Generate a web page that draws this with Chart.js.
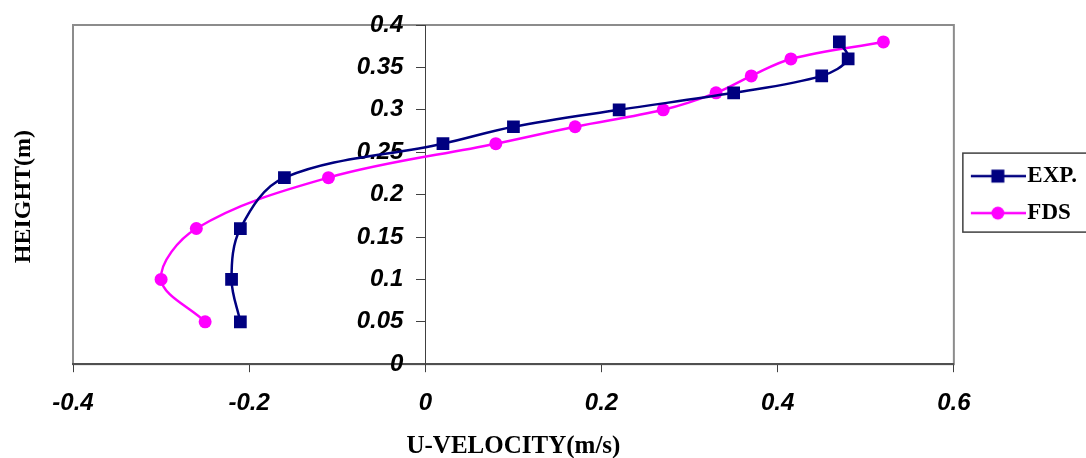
<!DOCTYPE html>
<html>
<head>
<meta charset="utf-8">
<script src="https://cdn.jsdelivr.net/npm/chart.js@4"></script>
<style>
    html, body { margin: 0; padding: 0; background: #fff; overflow: hidden; }
</style>
</head>
<body>
<canvas id="velChart" width="1100" height="458"></canvas>
<script>
const heights = [0.05, 0.10, 0.16, 0.22, 0.26, 0.28, 0.30, 0.32, 0.34, 0.36, 0.38];
const expVel = [-0.21, -0.22, -0.21, -0.16, 0.02, 0.10, 0.22, 0.35, 0.45, 0.48, 0.47];
const fdsVel = [-0.25, -0.30, -0.26, -0.11, 0.08, 0.17, 0.27, 0.33, 0.37, 0.415, 0.52];

const xTicks = [-0.4, -0.2, 0, 0.2, 0.4, 0.6];
const xTickLabels = ['-0.4', '-0.2', '0', '0.2', '0.4', '0.6'];
const yTicks = [0, 0.05, 0.1, 0.15, 0.2, 0.25, 0.3, 0.35, 0.4];
const yTickLabels = ['0', '0.05', '0.1', '0.15', '0.2', '0.25', '0.3', '0.35', '0.4'];

const NAVY = '#000080';
const MAGENTA = '#ff00ff';

function toPoints(xs, ys) {
    return xs.map((x, i) => ({ x: x, y: ys[i] }));
}

// small canvas with line + marker, used as the legend symbol
// (it is drawn centred on the legend box, so the line runs a bit to the right)
function legendSymbol(color, shape) {
    const c = document.createElement('canvas');
    c.width = 68;
    c.height = 16;
    const g = c.getContext('2d');
    g.strokeStyle = color;
    g.lineWidth = 2.5;
    g.beginPath();
    g.moveTo(13, 8);
    g.lineTo(68, 8);
    g.stroke();
    g.fillStyle = color;
    if (shape === 'rect') {
        g.fillRect(40 - 6.5, 8 - 6.5, 13, 13);
    } else {
        g.beginPath();
        g.arc(40, 8, 6.5, 0, Math.PI * 2);
        g.fill();
    }
    return c;
}

const frame = {
    id: 'frame',
    beforeDraw(chart) {
        // y axis sits at x = 0, so push its labels off the axis line
        const ys = chart.scales.y;
        ys._labelItems = null;
        ys.getLabelItems(chart.chartArea).forEach(item => {
            item.options.translation[0] -= 22;
        });

        const a = chart.chartArea;
        const ctx = chart.ctx;
        ctx.save();
        ctx.strokeStyle = '#8c8c8c';
        ctx.lineWidth = 2;
        ctx.strokeRect(a.left, a.top, a.right - a.left, a.bottom - a.top);
        ctx.restore();
    },
    afterDraw(chart) {
        const ctx = chart.ctx;
        const a = chart.chartArea;
        ctx.save();
        ctx.font = 'bold 24px "Liberation Serif"';
        ctx.fillStyle = '#000';
        ctx.textAlign = 'center';
        ctx.textBaseline = 'middle';
        ctx.translate(24, (a.top + a.bottom) / 2 + 2);
        ctx.rotate(-Math.PI / 2);
        ctx.fillText('HEIGHT(m)', 0, 0);
        ctx.restore();

        // legend frame
        const hb = chart.legend.legendHitBoxes;
        if (hb && hb.length) {
            const first = hb[0];
            const last = hb[hb.length - 1];
            const top = first.top + first.height / 2 - 23;
            const bottom = last.top + last.height / 2 + 19;
            ctx.save();
            ctx.strokeStyle = '#404040';
            ctx.lineWidth = 1.5;
            ctx.strokeRect(chart.legend.left + 9, top, chart.width, bottom - top);
            ctx.restore();
        }
    }
};

const tickFont = { family: '"Liberation Sans", Arial', size: 24, weight: 'bold', style: 'italic' };

new Chart(document.getElementById('velChart'), {
    type: 'scatter',
    data: {
        datasets: [
            {
                label: 'EXP.',
                data: toPoints(expVel, heights),
                showLine: true,
                borderColor: NAVY,
                backgroundColor: NAVY,
                borderWidth: 2.5,
                tension: 0.35,
                pointStyle: 'rect',
                pointRadius: 9,
                pointHoverRadius: 9,
                pointBorderWidth: 0
            },
            {
                label: 'FDS',
                data: toPoints(fdsVel, heights),
                showLine: true,
                borderColor: MAGENTA,
                backgroundColor: MAGENTA,
                borderWidth: 2.5,
                tension: 0.35,
                pointStyle: 'circle',
                pointRadius: 6.5,
                pointHoverRadius: 6.5,
                pointBorderWidth: 0
            }
        ]
    },
    options: {
        responsive: false,
        animation: false,
        layout: { padding: { left: 73, top: 25, right: 13, bottom: 0 } },
        plugins: {
            tooltip: { enabled: false },
            legend: {
                position: 'right',
                fullSize: false,
                labels: {
                    usePointStyle: true,
                    pointStyleWidth: 48,
                    padding: 14,
                    color: '#000',
                    font: { family: '"Liberation Serif"', size: 23, weight: 'bold' },
                    generateLabels: function(chart) {
                        return chart.data.datasets.map((ds, i) => ({
                            text: ds.label,
                            datasetIndex: i,
                            pointStyle: legendSymbol(ds.borderColor, ds.pointStyle),
                            fillStyle: ds.borderColor,
                            strokeStyle: ds.borderColor,
                            lineWidth: 0,
                            fontColor: '#000'
                        }));
                    }
                }
            }
        },
        scales: {
            x: {
                type: 'linear',
                position: 'bottom',
                min: -0.4,
                max: 0.6,
                afterBuildTicks: function(scale) {
                    scale.ticks = xTicks.map(v => ({ value: v }));
                },
                ticks: {
                    color: '#000',
                    font: tickFont,
                    padding: 17,
                    maxRotation: 0,
                    callback: function(value) {
                        const i = xTicks.findIndex(t => Math.abs(t - value) < 1e-9);
                        return i >= 0 ? xTickLabels[i] : '';
                    }
                },
                grid: { display: true, drawOnChartArea: false, drawTicks: true, tickLength: 8, color: '#404040' },
                border: { display: true, color: '#505050', width: 2 },
                title: {
                    display: true,
                    text: 'U-VELOCITY(m/s)',
                    color: '#000',
                    font: { family: '"Liberation Serif"', size: 25, weight: 'bold', lineHeight: 0.92 },
                    padding: { top: 0, bottom: 0 }
                }
            },
            y: {
                type: 'linear',
                position: { x: 0 },
                min: 0,
                max: 0.4,
                afterBuildTicks: function(scale) {
                    scale.ticks = yTicks.map(v => ({ value: v }));
                },
                ticks: {
                    color: '#000',
                    font: tickFont,
                    callback: function(value) {
                        const i = yTicks.findIndex(t => Math.abs(t - value) < 1e-9);
                        return i >= 0 ? yTickLabels[i] : '';
                    }
                },
                grid: { display: true, drawOnChartArea: false, drawTicks: true, tickLength: 9, color: '#404040' },
                border: { display: true, color: '#404040', width: 1 }
            }
        }
    },
    plugins: [frame]
});
</script>
</body>
</html>
